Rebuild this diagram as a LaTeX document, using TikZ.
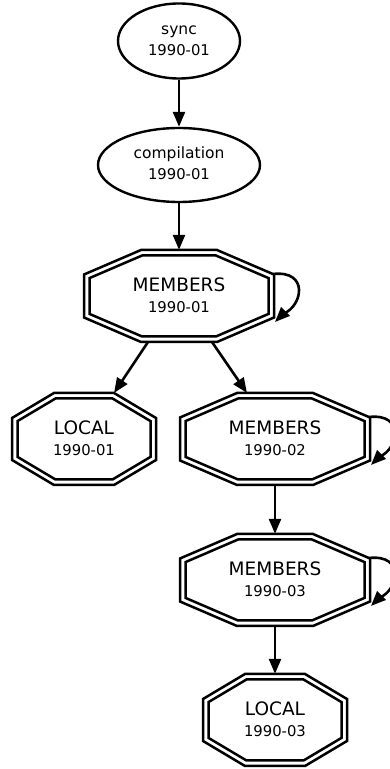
\documentclass[tikz,border=0pt]{standalone}
\usepackage{fontspec}
\setmainfont{DejaVu Sans}
\usetikzlibrary{shapes.geometric,arrows.meta,calc}
\newcommand{\octBig}[1]{%
  \begin{scope}[shift={(#1.center)}]
    \draw[octline] (-38,46) -- (38,46) -- (95,21.5) -- (95,-21.5) -- (38,-46) -- (-38,-46) -- (-95,-21.5) -- (-95,21.5) -- cycle;
    \draw[octline] (-36.9,40.5) -- (36.9,40.5) -- (89.5,17.9) -- (89.5,-17.9) -- (36.9,-40.5) -- (-36.9,-40.5) -- (-89.5,-17.9) -- (-89.5,17.9) -- cycle;
  \end{scope}}
\newcommand{\octSmall}[1]{%
  \begin{scope}[shift={(#1.center)}]
    \draw[octline] (-30,46) -- (30,46) -- (72,21) -- (72,-21) -- (30,-46) -- (-30,-46) -- (-72,-21) -- (-72,21) -- cycle;
    \draw[octline] (-28.5,40.5) -- (28.5,40.5) -- (66.5,17.9) -- (66.5,-17.9) -- (28.5,-40.5) -- (-28.5,-40.5) -- (-66.5,-17.9) -- (-66.5,17.9) -- cycle;
  \end{scope}}
\begin{document}
\begin{tikzpicture}[x=1pt,y=1pt,
  ell/.style={ellipse, draw, line width=2.4pt, inner sep=0pt},
  octbox/.style={rectangle, inner sep=0pt, minimum width=#1, minimum height=92pt},
  octline/.style={line width=2.5pt, line join=miter},
  bigtxt/.style={font=\fontsize{18.5}{20}\selectfont, inner sep=0pt, anchor=base},
  eltxt/.style={font=\fontsize{15.5}{18}\selectfont, inner sep=0pt, anchor=base},
  smtxt/.style={font=\fontsize{14.8}{17}\selectfont, inner sep=0pt, anchor=base},
  edge/.style={line width=2.6pt, -{Triangle[length=15pt,width=12pt]}}]
\useasboundingbox (0,0) rectangle (390,769);
\fill[white] (0,0) rectangle (390,769);

% ellipses
\node[ell, minimum width=122pt, minimum height=75pt] (sync) at (179,728) {};
\node[ell, minimum width=162pt, minimum height=74pt] (comp) at (179,604) {};
\node[eltxt] (synca) at ($(sync.center)+(0,6)$) {sync};
\node[smtxt] (syncb) at ($(sync.center)+(0,-15)$) {1990-01};
\node[eltxt] (compa) at ($(comp.center)+(0,6)$) {compilation};
\node[smtxt] (compb) at ($(comp.center)+(0,-15)$) {1990-01};

% octagon nodes
\node[octbox=190pt] (m1) at (179,473) {};
\node[octbox=144pt] (l1) at (84,330) {};
\node[octbox=190pt] (m2) at (275,330) {};
\node[octbox=190pt] (m3) at (275,189) {};
\node[octbox=144pt] (l3) at (275,49) {};
\octBig{m1}
\octSmall{l1}
\octBig{m2}
\octBig{m3}
\octSmall{l3}

\node[bigtxt] (m1a) at ($(m1.center)+(0,4)$) {MEMBERS};
\node[smtxt]  (m1b) at ($(m1.center)+(0,-17)$) {1990-01};
\node[bigtxt] (l1a) at ($(l1.center)+(0,4)$) {LOCAL};
\node[smtxt]  (l1b) at ($(l1.center)+(0,-17)$) {1990-01};
\node[bigtxt] (m2a) at ($(m2.center)+(0,4)$) {MEMBERS};
\node[smtxt]  (m2b) at ($(m2.center)+(0,-17)$) {1990-02};
\node[bigtxt] (m3a) at ($(m3.center)+(0,4)$) {MEMBERS};
\node[smtxt]  (m3b) at ($(m3.center)+(0,-17)$) {1990-03};
\node[bigtxt] (l3a) at ($(l3.center)+(0,4)$) {LOCAL};
\node[smtxt]  (l3b) at ($(l3.center)+(0,-17)$) {1990-03};

% edges
\draw[edge] (sync) -- (comp);
\draw[edge] (comp) -- (m1);
\draw[edge] ($(m1.center)+(-31,-46)$) -- ($(l1.center)+(30,46)$);
\draw[edge] ($(m1.center)+(33,-46)$) -- ($(m2.center)+(-28,46)$);
\draw[edge] (m2) -- (m3);
\draw[edge] (m3) -- (l3);

% self loops
\foreach \n in {m1,m2,m3}{
  \draw[edge] ($(\n.center)+(94,22)$) .. controls ($(\n.center)+(130,26)$) and ($(\n.center)+(124,-10)$) .. ($(\n.center)+(104,-18)$) -- ($(\n.center)+(96,-26)$);
}
\end{tikzpicture}
\end{document}
